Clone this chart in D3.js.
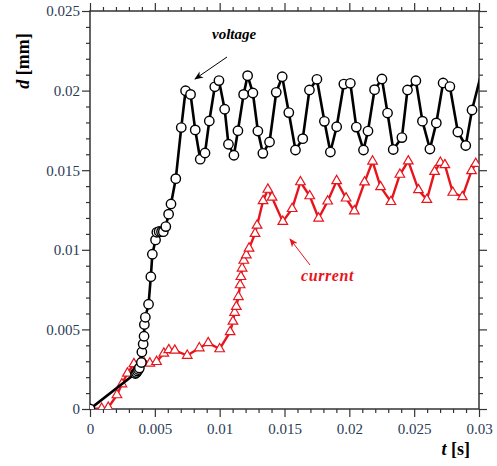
<!DOCTYPE html>
<html>
<head>
<meta charset="utf-8">
<script src="https://cdn.jsdelivr.net/npm/d3@7/dist/d3.min.js"></script>
<style>
  body { margin: 0; background: #ffffff; }
  svg { display: block; }
</style>
</head>
<body>
<svg id="chart" width="497" height="466"></svg>
<script>
// Displacement d [mm] versus time t [s] for the two drive modes
const voltageT = [0, 0.0035, 0.003577, 0.003654, 0.003731, 0.003808, 0.003962, 0.004, 0.0041, 0.004169,
  0.004192, 0.004269, 0.004515, 0.004692, 0.004808, 0.005054, 0.005154, 0.005331, 0.005515, 0.005654,
  0.005846, 0.006062, 0.006246, 0.006615, 0.007038, 0.007369, 0.007754, 0.008115, 0.0085, 0.008869,
  0.0092, 0.009623, 0.009946, 0.010385, 0.010677, 0.0111, 0.011408, 0.011846, 0.012154, 0.012562,
  0.012946, 0.013331, 0.013846, 0.014362, 0.014823, 0.015331, 0.015846, 0.016408, 0.016923, 0.0175,
  0.018077, 0.018538, 0.019023, 0.019577, 0.020077, 0.020538, 0.021092, 0.021438, 0.021946, 0.022515,
  0.022946, 0.023385, 0.024054, 0.024485, 0.025131, 0.025638, 0.026215, 0.026708, 0.027231, 0.027754,
  0.028369, 0.028977, 0.029462, 0.030077];
const voltageD = [0, 0.00223, 0.00229, 0.00239, 0.00248, 0.00258, 0.00292, 0.00358, 0.00408, 0.00457,
  0.00531, 0.00576, 0.00658, 0.00831, 0.00972, 0.01062, 0.0111, 0.01115, 0.01114, 0.01114,
  0.01146, 0.01224, 0.01288, 0.01447, 0.01768, 0.01999, 0.01976, 0.01753, 0.01569, 0.01608,
  0.01809, 0.02024, 0.02063, 0.01883, 0.01663, 0.01594, 0.01748, 0.01976, 0.02094, 0.01985,
  0.01746, 0.01606, 0.01677, 0.01989, 0.02087, 0.01862, 0.01627, 0.01698, 0.02004, 0.02071,
  0.01807, 0.01614, 0.01773, 0.02041, 0.02046, 0.01771, 0.01627, 0.01746, 0.02006, 0.02073,
  0.01859, 0.0163, 0.01705, 0.02004, 0.02062, 0.01808, 0.01633, 0.01797, 0.02048, 0.02025,
  0.0174, 0.01655, 0.01878, 0.02076, 0.01941];

const currentT = [0, 0.0009, 0.001408, 0.002077, 0.002462, 0.002885, 0.003385, 0.004, 0.004615, 0.005131,
  0.005692, 0.006077, 0.006538, 0.0075, 0.008431, 0.009115, 0.01, 0.010808, 0.011023, 0.011154,
  0.011285, 0.011446, 0.011577, 0.011638, 0.011731, 0.011862, 0.012054, 0.012269, 0.012731, 0.012885,
  0.013346, 0.013715, 0.014038, 0.014869, 0.015592, 0.016231, 0.016946, 0.017631, 0.018331, 0.019023,
  0.019746, 0.020385, 0.021177, 0.021792, 0.022408, 0.023208, 0.0239, 0.024546, 0.025331, 0.025977,
  0.026577, 0.027023, 0.027369, 0.027977, 0.028715, 0.029423, 0.029746, 0.030077];
const currentD = [0, 0.00003, 0.00009, 0.00088, 0.00157, 0.00224, 0.00283, 0.00314, 0.00287, 0.00297,
  0.00349, 0.00371, 0.00368, 0.00336, 0.00383, 0.00415, 0.00377, 0.00484, 0.0055, 0.00606,
  0.00643, 0.00705, 0.00779, 0.00831, 0.00884, 0.00933, 0.00967, 0.01009, 0.01102, 0.01153,
  0.01307, 0.01379, 0.01329, 0.01177, 0.01258, 0.01426, 0.01338, 0.01198, 0.01305, 0.01433,
  0.01324, 0.01243, 0.01425, 0.01556, 0.01395, 0.01302, 0.01473, 0.01557, 0.01376, 0.01315,
  0.01491, 0.01548, 0.01533, 0.0136, 0.01332, 0.01496, 0.01541, 0.01545];

const xMajorTicks = [0, 0.005, 0.01, 0.015, 0.02, 0.025, 0.03];
const xTickLabels = ["0", "0.005", "0.01", "0.015", "0.02", "0.025", "0.03"];
const yMajorTicks = [0, 0.005, 0.01, 0.015, 0.02, 0.025];
const yTickLabels = ["0", "0.005", "0.01", "0.015", "0.02", "0.025"];
const minorStep = 0.001;

const svg = d3.select("#chart");
const plotLeft = 90, plotRight = 479, plotTop = 11, plotBottom = 409;

const x = d3.scaleLinear().domain([0, 0.03]).range([plotLeft, plotRight]);
const y = d3.scaleLinear().domain([0, 0.025]).range([plotBottom, plotTop]);

const xMinor = d3.range(0, 0.03 + 1e-9, minorStep).filter(v => !xMajorTicks.some(m => Math.abs(m - v) < 1e-9));
const yMinor = d3.range(0, 0.025 + 1e-9, minorStep).filter(v => !yMajorTicks.some(m => Math.abs(m - v) < 1e-9));

const axisColor = "#333333";
const labelColor = "#2b3a55";
const serif = "'Liberation Serif', serif";

function styleAxis(g) {
  g.select(".domain").remove();
  g.selectAll(".tick line").attr("stroke", axisColor).attr("stroke-width", 1.2);
  g.selectAll(".tick text")
    .attr("fill", labelColor)
    .style("font-family", serif)
    .style("font-size", "15px");
}

// Major ticks with labels (bottom, left), unlabelled on top and right
svg.append("g").attr("transform", `translate(0,${plotBottom})`)
  .call(d3.axisBottom(x).tickValues(xMajorTicks).tickSize(8).tickPadding(6)
    .tickFormat((d, i) => xTickLabels[i]))
  .call(styleAxis);
svg.append("g").attr("transform", `translate(0,${plotBottom})`)
  .call(d3.axisBottom(x).tickValues(xMinor).tickSize(4).tickFormat(""))
  .call(styleAxis);
svg.append("g").attr("transform", `translate(0,${plotTop})`)
  .call(d3.axisTop(x).tickValues(xMajorTicks).tickSize(8).tickFormat(""))
  .call(styleAxis);
svg.append("g").attr("transform", `translate(0,${plotTop})`)
  .call(d3.axisTop(x).tickValues(xMinor).tickSize(4).tickFormat(""))
  .call(styleAxis);

svg.append("g").attr("transform", `translate(${plotLeft},0)`)
  .call(d3.axisLeft(y).tickValues(yMajorTicks).tickSize(8).tickPadding(2)
    .tickFormat((d, i) => yTickLabels[i]))
  .call(styleAxis);
svg.append("g").attr("transform", `translate(${plotLeft},0)`)
  .call(d3.axisLeft(y).tickValues(yMinor).tickSize(4).tickFormat(""))
  .call(styleAxis);
svg.append("g").attr("transform", `translate(${plotRight},0)`)
  .call(d3.axisRight(y).tickValues(yMajorTicks).tickSize(8).tickFormat(""))
  .call(styleAxis);
svg.append("g").attr("transform", `translate(${plotRight},0)`)
  .call(d3.axisRight(y).tickValues(yMinor).tickSize(4).tickFormat(""))
  .call(styleAxis);

// Frame
svg.append("rect")
  .attr("x", plotLeft).attr("y", plotTop)
  .attr("width", plotRight - plotLeft).attr("height", plotBottom - plotTop)
  .attr("fill", "none").attr("stroke", axisColor).attr("stroke-width", 1.5);

// Clip the traces to the plotting area
const defs = svg.append("defs");
defs.append("clipPath").attr("id", "plotArea")
  .append("rect").attr("x", plotLeft).attr("y", plotTop)
  .attr("width", plotRight - plotLeft).attr("height", plotBottom - plotTop);

const plot = svg.append("g").attr("clip-path", "url(#plotArea)");

const line = d3.line().x(d => x(d[0])).y(d => y(d[1]));
const voltage = voltageT.map((t, i) => [t, voltageD[i]]);
const current = currentT.map((t, i) => [t, currentD[i]]);
const inRange = d => d[0] <= 0.03;

const red = "#e8141c";

// Current trace: red line with open triangles
plot.append("path").datum(current)
  .attr("d", line).attr("fill", "none")
  .attr("stroke", red).attr("stroke-width", 2.4).attr("stroke-linejoin", "round");
plot.selectAll(".tri").data(current.filter(inRange)).join("path")
  .attr("class", "tri")
  .attr("d", d3.symbol(d3.symbolTriangle, 40))
  .attr("transform", d => `translate(${x(d[0])},${y(d[1])})`)
  .attr("fill", "#ffffff").attr("stroke", red).attr("stroke-width", 1.2);

// Voltage trace: black line with open circles
plot.append("path").datum(voltage)
  .attr("d", line).attr("fill", "none")
  .attr("stroke", "#000000").attr("stroke-width", 2.6).attr("stroke-linejoin", "round");
plot.selectAll(".dot").data(voltage.filter(inRange)).join("circle")
  .attr("class", "dot")
  .attr("cx", d => x(d[0])).attr("cy", d => y(d[1])).attr("r", 4.7)
  .attr("fill", "#ffffff").attr("stroke", "#000000").attr("stroke-width", 1.4);

// Arrowheads for the annotations
function arrowHead(id, color) {
  defs.append("marker").attr("id", id)
    .attr("viewBox", "0 0 10 10").attr("refX", 9).attr("refY", 5)
    .attr("markerWidth", 9).attr("markerHeight", 9)
    .attr("markerUnits", "userSpaceOnUse").attr("orient", "auto")
    .append("path").attr("d", "M0,1 L10,5 L0,9 L3,5 Z").attr("fill", color);
}
arrowHead("arrowBlack", "#000000");
arrowHead("arrowRed", red);

svg.append("line")
  .attr("x1", 227).attr("y1", 57).attr("x2", 195).attr("y2", 79)
  .attr("stroke", "#000000").attr("stroke-width", 1)
  .attr("marker-end", "url(#arrowBlack)");
svg.append("text")
  .attr("x", 212).attr("y", 39)
  .style("font-family", serif)
  .style("font-size", "15px").style("font-weight", "bold").style("font-style", "italic")
  .attr("fill", "#000000").text("voltage");

svg.append("line")
  .attr("x1", 310).attr("y1", 265).attr("x2", 290).attr("y2", 239)
  .attr("stroke", red).attr("stroke-width", 1)
  .attr("marker-end", "url(#arrowRed)");
svg.append("text")
  .attr("x", 301).attr("y", 281)
  .style("font-family", serif)
  .style("font-size", "16px").style("font-weight", "bold").style("font-style", "italic")
  .style("letter-spacing", "0.6px")
  .attr("fill", red).text("current");

// Axis titles
const yTitle = svg.append("text")
  .attr("transform", "translate(29,61) rotate(-90)")
  .attr("text-anchor", "middle")
  .style("font-family", serif)
  .style("font-size", "18px").style("font-weight", "bold")
  .attr("fill", "#000000");
yTitle.append("tspan").style("font-style", "italic").text("d");
yTitle.append("tspan").text(" [mm]");

const xTitle = svg.append("text")
  .attr("x", 470).attr("y", 455)
  .attr("text-anchor", "end")
  .style("font-family", serif)
  .style("font-size", "18px").style("font-weight", "bold")
  .attr("fill", "#000000");
xTitle.append("tspan").style("font-style", "italic").text("t");
xTitle.append("tspan").text(" [s]");
</script>
</body>
</html>
